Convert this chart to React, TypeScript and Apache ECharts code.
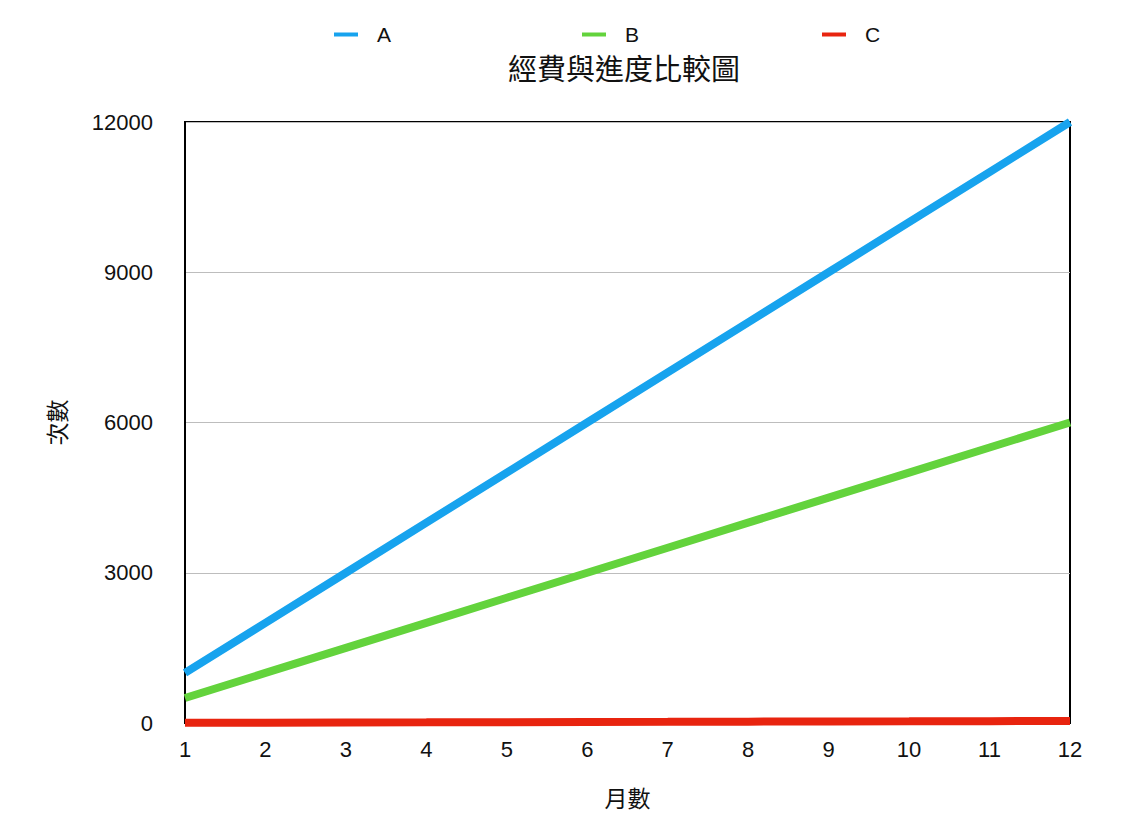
import React, { useEffect, useRef } from "react";
import * as echarts from "echarts";

const months = ["1", "2", "3", "4", "5", "6", "7", "8", "9", "10", "11", "12"];
const seriesA = [1000, 2000, 3000, 4000, 5000, 6000, 7000, 8000, 9000, 10000, 11000, 12000];
const seriesB = [500, 1000, 1500, 2000, 2500, 3000, 3500, 4000, 4500, 5000, 5500, 6000];
const seriesC = [3, 7, 10, 13, 17, 20, 23, 27, 30, 33, 37, 40];
const yTicks = [0, 3000, 6000, 9000, 12000];

const LATIN = "'Liberation Sans', Arial, sans-serif";
const CJK = "'Noto Sans CJK TC', 'Noto Sans CJK SC', sans-serif";
const colors = { A: "#17a3ee", B: "#63d33c", C: "#e8240f" };

export default function App() {
  const ref = useRef<HTMLDivElement>(null);

  useEffect(() => {
    if (!ref.current) return;
    const chart = echarts.init(ref.current, undefined, { renderer: "svg" });

    const legendItem = (name: string, left: number) => ({
      data: [name],
      left,
      top: 24,
      padding: 0,
      icon: "rect",
      itemWidth: 24,
      itemHeight: 4,
      textStyle: {
        fontFamily: LATIN,
        fontSize: 21,
        color: "#111",
        padding: [0, 0, 0, 14],
      },
    });

    chart.setOption({
      animation: false,
      backgroundColor: "#fff",
      title: {
        text: "經費與進度比較圖",
        left: 508,
        top: 52,
        padding: 0,
        textStyle: { fontFamily: CJK, fontSize: 29, fontWeight: "normal", color: "#111" },
      },
      legend: [legendItem("A", 334), legendItem("B", 582), legendItem("C", 822)],
      grid: {
        left: 185,
        right: 78,
        top: 122,
        bottom: 111,
        show: true,
        borderColor: "#000",
        borderWidth: 2,
        containLabel: false,
      },
      xAxis: {
        type: "category",
        data: months,
        boundaryGap: false,
        name: "月數",
        nameLocation: "middle",
        nameGap: 62,
        nameTextStyle: { fontFamily: CJK, fontSize: 23, color: "#111" },
        axisLine: { lineStyle: { color: "#000", width: 2 } },
        axisTick: { show: false },
        axisLabel: { fontFamily: LATIN, fontSize: 22, color: "#111", margin: 15 },
      },
      yAxis: {
        type: "value",
        min: yTicks[0],
        max: yTicks[yTicks.length - 1],
        interval: 3000,
        name: "次數",
        nameLocation: "middle",
        nameGap: 118,
        nameTextStyle: { fontFamily: CJK, fontSize: 23, color: "#111" },
        axisLine: { show: true, lineStyle: { color: "#000", width: 2 } },
        axisTick: { show: false },
        axisLabel: {
          fontFamily: LATIN,
          fontSize: 22,
          color: "#111",
          margin: 32,
          formatter: (v: number) => String(v),
        },
        splitLine: { lineStyle: { color: "#bdbdbd", width: 1 } },
      },
      series: [
        { name: "A", type: "line", data: seriesA, showSymbol: false, color: colors.A, lineStyle: { width: 8, color: colors.A } },
        { name: "B", type: "line", data: seriesB, showSymbol: false, color: colors.B, lineStyle: { width: 8, color: colors.B } },
        { name: "C", type: "line", data: seriesC, showSymbol: false, color: colors.C, lineStyle: { width: 8, color: colors.C } },
      ],
    });

    return () => chart.dispose();
  }, []);

  return (
    <div
      ref={ref}
      style={{ position: "fixed", left: 0, top: 0, width: 1148, height: 834 }}
    />
  );
}
